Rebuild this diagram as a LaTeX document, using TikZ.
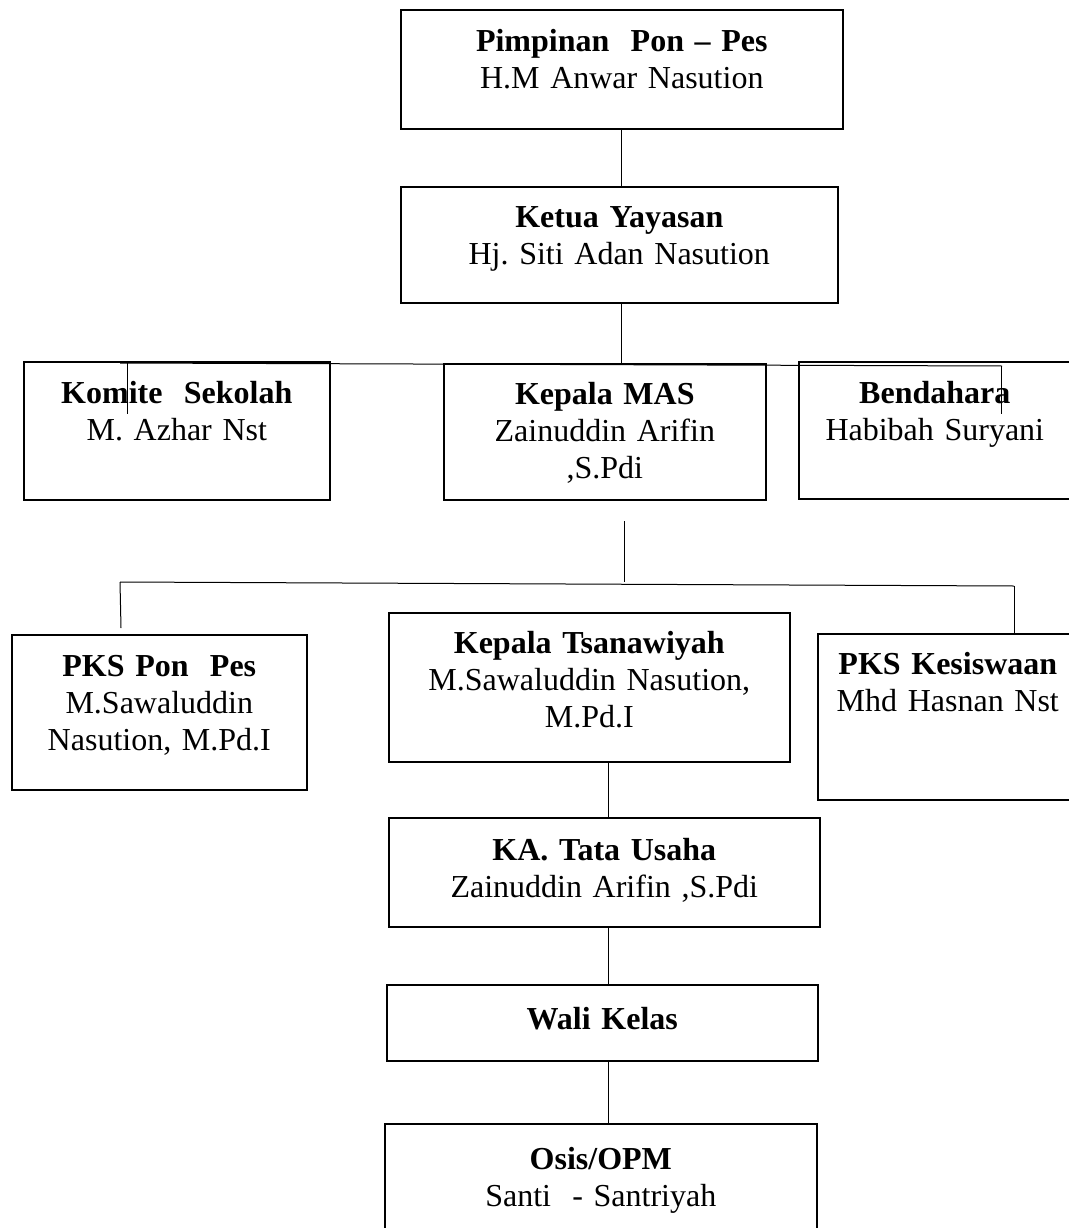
\documentclass[tikz,border=0pt]{standalone}
\usepackage{fontspec}
\setmainfont{Liberation Serif}
\usetikzlibrary{positioning,calc}
\frenchspacing

\begin{document}
\begin{tikzpicture}[x=1pt,y=-1pt,
			org box/.style={draw, line width=1.6pt, rectangle, anchor=north west, align=center,
				inner sep=0pt, font=\fontsize{32}{37}\selectfont},
			link/.style={draw, line width=1pt}]

			\fill[white] (0,0) rectangle (1068,1228);
			\useasboundingbox (0,0) rectangle (1068,1228);

			% top levels
			\node[org box, text width=442pt, text height=42pt, text depth=77pt] (pimpinan) at (400,9)
				{\textbf{Pimpinan~ Pon -- Pes}\\ H.M Anwar Nasution};
			\node[org box, text width=437pt, text height=41pt, text depth=75pt] (ketua) at (400,186)
				{\textbf{Ketua Yayasan}\\ Hj. Siti Adan Nasution};

			% third row
			\node[org box, text width=306pt, text height=42pt, text depth=96pt] (komite) at (23,361)
				{\textbf{Komite~ Sekolah}\\ M. Azhar Nst};
			\node[org box, text width=322pt, text height=41pt, text depth=95pt] (mas) at (443,363)
				{\textbf{Kepala MAS}\\ Zainuddin Arifin\\ ,S.Pdi};
			\node[org box, text width=272pt, text height=42pt, text depth=95pt] (bendahara) at (798,361)
				{\textbf{Bendahara}\\ Habibah Suryani};

			% fourth row
			\node[org box, text width=295pt, text height=42pt, text depth=113pt] (pkspon) at (11,634)
				{\textbf{PKS Pon~ Pes}\\ M.Sawaluddin\\ Nasution, M.Pd.I};
			\node[org box, text width=401pt, text height=41pt, text depth=108pt] (tsanawiyah) at (388,612)
				{\textbf{Kepala Tsanawiyah}\\ M.Sawaluddin Nasution,\\ M.Pd.I};
			\node[org box, text width=260pt, text height=41pt, text depth=125pt] (kesiswaan) at (817,633)
				{\textbf{PKS Kesiswaan}\\ Mhd Hasnan Nst};

			% lower column
			\node[org box, text width=431pt, text height=43pt, text depth=66pt] (tatausaha) at (388,817)
				{\textbf{KA. Tata Usaha}\\ Zainuddin Arifin ,S.Pdi};
			\node[org box, text width=431pt, text height=45pt, text depth=31pt] (wali) at (386,984)
				{\textbf{Wali Kelas}};
			\node[org box, text width=432pt, text height=46pt, text depth=71pt] (osis) at (384,1123)
				{\textbf{Osis/OPM}\\ Santi~ - Santriyah};

			\coordinate (trunk) at (621,0);
			\coordinate (spine) at (608,0);
			\coordinate (barL) at (120,363);
			\coordinate (barR) at (1002,366);
			\coordinate (tickL) at (127,414);
			\coordinate (tickR) at (1001,414);
			\coordinate (midtop) at (624,521);
			\coordinate (bar2L) at (120,582);
			\coordinate (bar2R) at (1014,586);
			\coordinate (dropL) at (121,628);

			\path[link] (trunk |- pimpinan.south) -- (trunk |- ketua.north);
			\path[link] (trunk |- ketua.south) -- (trunk |- barL);
			\path[link] (barL) -- (barR);
			\path[link] (tickL |- barL) -- (tickL);
			\path[link] (tickR |- barR) -- (tickR);

			\path[link] (midtop) -- (midtop |- bar2L);
			\path[link] (bar2L) -- (bar2R);
			\path[link] (bar2L) -- (dropL);
			\path[link] (bar2R) -- (bar2R |- kesiswaan.north);

			\path[link] (spine |- tsanawiyah.south) -- (spine |- tatausaha.north);
			\path[link] (spine |- tatausaha.south) -- (spine |- wali.north);
			\path[link] (spine |- wali.south) -- (spine |- osis.north);

		\end{tikzpicture}
\end{document}
